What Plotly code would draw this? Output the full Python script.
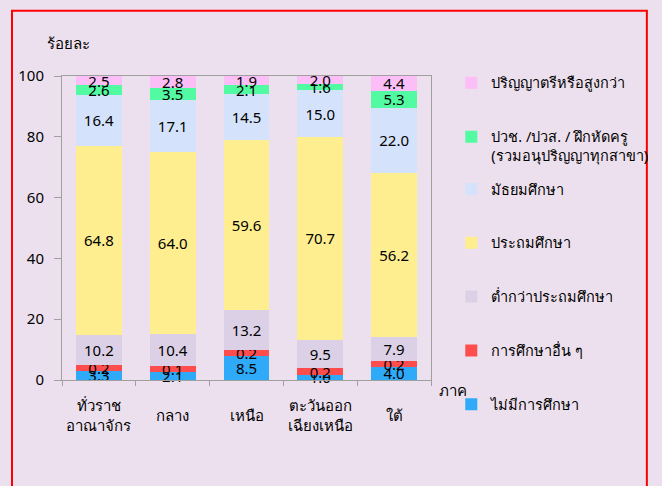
import plotly.graph_objects as go

# ภาค
regions = ["ทั่วราช<br>อาณาจักร", "กลาง", "เหนือ", "ตะวันออก<br>เฉียงเหนือ", "ใต้"]

# ร้อยละ ตามที่พิมพ์บนแท่ง
lbl_none = [3.3, 2.1, 8.5, 1.0, 4.0]
lbl_other = [0.2, 0.1, 0.2, 0.2, 0.2]
lbl_below_primary = [10.2, 10.4, 13.2, 9.5, 7.9]
lbl_primary = [64.8, 64.0, 59.6, 70.7, 56.2]
lbl_secondary = [16.4, 17.1, 14.5, 15.0, 22.0]
lbl_vocational = [2.6, 3.5, 2.1, 1.6, 5.3]
lbl_bachelor = [2.5, 2.8, 1.9, 2.0, 4.4]

# ความสูงของแท่งตามที่วาดในภาพต้นฉบับ
bar_none = [3.1, 2.7, 7.9, 1.7, 4.4]
bar_other = [1.9, 2.0, 2.1, 2.1, 2.0]
bar_below_primary = [9.9, 10.5, 13.1, 9.5, 7.9]
bar_primary = [62.2, 59.8, 55.9, 66.7, 53.7]
bar_secondary = [16.8, 17.2, 15.2, 15.3, 21.6]
bar_vocational = [3.0, 3.8, 2.7, 2.2, 5.5]
bar_bachelor = [3.1, 4.0, 3.1, 2.5, 4.9]

series = [
    ("ไม่มีการศึกษา", bar_none, lbl_none, "#2EAAF8", "legend2", 7),
    ("การศึกษาอื่น ๆ", bar_other, lbl_other, "#FF4D4D", "legend2", 6),
    ("ต่ำกว่าประถมศึกษา", bar_below_primary, lbl_below_primary, "#DCD0E6", "legend2", 5),
    ("ประถมศึกษา", bar_primary, lbl_primary, "#FEEE90", "legend2", 4),
    ("มัธยมศึกษา", bar_secondary, lbl_secondary, "#D4E3FB", "legend2", 3),
    ("ปวช. /ปวส. / ฝึกหัดครู<br>(รวมอนุปริญญาทุกสาขา)", bar_vocational, lbl_vocational, "#52FBA2", "legend", 2),
    ("ปริญญาตรีหรือสูงกว่า", bar_bachelor, lbl_bachelor, "#FCBEF6", "legend", 1),
]

FONT = "Tahoma, Noto Sans, DejaVu Sans, sans-serif"
BG = "#EDE0EE"

fig = go.Figure()
for name, h, lbl, color, leg, rank in series:
    fig.add_trace(go.Bar(
        x=regions, y=h, name=name,
        text=[f"{v:.1f}" for v in lbl],
        textposition="inside", insidetextanchor="middle", textangle=0,
        textfont=dict(size=15, color="black", family=FONT),
        marker=dict(color=color, line=dict(width=0)),
        legend=leg, legendgroup=name, legendrank=rank,
        cliponaxis=False,
    ))

# ป้ายชื่อภาคใต้แกน x
for r in regions:
    fig.add_annotation(x=r, y=0, yshift=-35, text=r, showarrow=False,
                       yanchor="middle", font=dict(size=15, color="black", family=FONT))

fig.add_annotation(xref="paper", yref="paper", x=-0.046, y=1.109, text="ร้อยละ",
                   showarrow=False, xanchor="left", yanchor="middle",
                   font=dict(size=15, color="black", family=FONT))
fig.add_annotation(xref="paper", yref="paper", x=1.016, y=-0.033, text="ภาค",
                   showarrow=False, xanchor="left", yanchor="middle",
                   font=dict(size=15, color="black", family=FONT))

# กรอบสีแดง
fig.add_shape(type="rect", xref="paper", yref="paper",
              x0=-0.1355, x1=1.585, y0=-0.40, y1=1.2148,
              line=dict(color="#FF0000", width=2), layer="below")

legend_style = dict(
    font=dict(size=14.5, color="black", family=FONT),
    bgcolor="rgba(0,0,0,0)", borderwidth=0,
    traceorder="grouped", tracegroupgap=32,
    valign="top", xanchor="left", yanchor="top", x=1.055,
)

fig.update_layout(
    width=662, height=486,
    margin=dict(l=62, r=231, t=76, b=106, autoexpand=False),
    paper_bgcolor=BG, plot_bgcolor=BG,
    barmode="stack", bargap=0.38,
    showlegend=True,
    legend=dict(legend_style, y=1.03),
    legend2=dict(legend_style, y=0.681),
    uniformtext=dict(minsize=15, mode="show"),
    font=dict(family=FONT, size=15, color="black"),
)
fig.update_yaxes(range=[0, 100], dtick=20, showgrid=False, zeroline=False,
                 showline=True, linecolor="#A0A0A0", mirror=True,
                 ticks="outside", ticklen=7, tickcolor="#A0A0A0",
                 ticklabelstandoff=7, tickfont=dict(size=15))
fig.update_xaxes(showgrid=False, showline=True, linecolor="#A0A0A0", mirror=True,
                 ticks="outside", tickson="boundaries", ticklen=5, tickcolor="#A0A0A0",
                 showticklabels=False)

# ตัดระยะขอบของหน้าเว็บออก ให้กราฟชิดมุมบนซ้าย
fig.write_html("out.html", config={"displayModeBar": False},
               post_script="document.body.style.margin='0px';")
